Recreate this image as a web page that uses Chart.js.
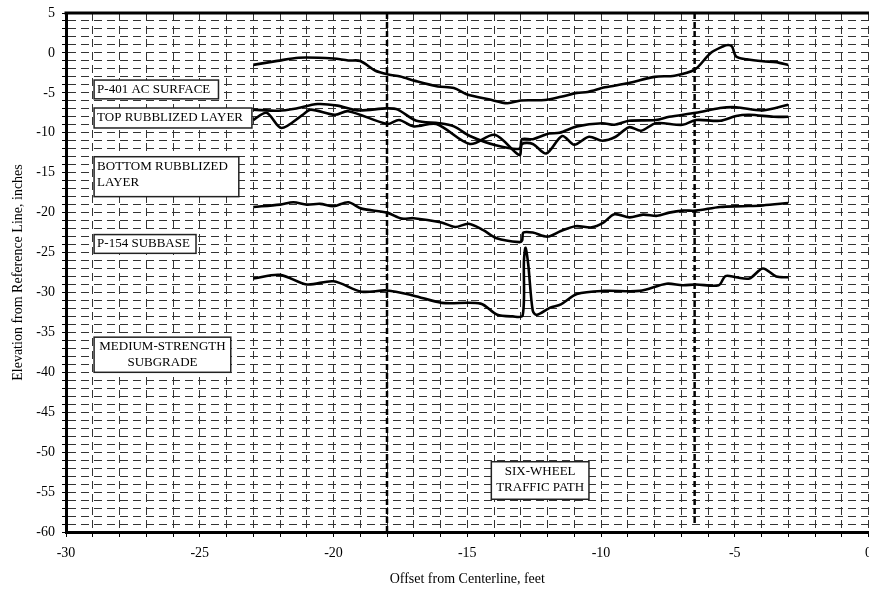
<!DOCTYPE html>
<html>
<head>
<meta charset="utf-8">
<script src="https://cdn.jsdelivr.net/npm/chart.js@4"></script>
<style>
  html, body { margin: 0; padding: 0; background: #fff; overflow: hidden; }
  #wrap { width: 880px; height: 591px; position: relative; }
</style>
</head>
<body>
<div id="wrap"><canvas id="chart"></canvas></div>
<script>
// offsets in feet, elevations in inches
const surfaceX = [-23.0, -22.1, -21.3, -20.0, -19.45, -19.0, -18.45, -17.95, -17.5, -16.95, -16.1, -15.5, -15.0, -14.2, -13.5, -13.0, -12.1, -11.5, -10.9, -10.5, -9.85, -9.0, -8.0, -7.25, -6.5, -5.9, -5.45, -5.25, -5.1, -4.95, -4.55, -3.95, -3.45, -3.0];
const surfaceY = [-1.5, -1.0, -0.6, -0.7, -0.95, -1.0, -2.2, -2.7, -2.95, -3.5, -4.2, -4.4, -5.2, -5.8, -6.3, -5.95, -5.9, -5.5, -5.0, -4.9, -4.3, -3.8, -3.0, -2.85, -2.1, 0.0, 0.8, 1.0, 0.8, -0.45, -0.8, -1.05, -1.15, -1.5];

const topRubbleX = [-23.0, -22.05, -21.45, -20.6, -19.85, -19.1, -18.0, -17.6, -16.9, -16.05, -15.5, -14.9, -13.9, -13.05, -12.95, -12.55, -11.95, -11.55, -10.9, -9.95, -9.5, -8.95, -7.95, -7.45, -6.45, -5.55, -4.95, -3.95, -3.0];
const topRubbleY = [-7.1, -7.25, -7.0, -6.4, -6.6, -7.2, -6.95, -7.1, -8.5, -8.8, -9.2, -10.4, -11.6, -12.0, -10.8, -10.8, -10.1, -10.0, -9.2, -8.8, -9.0, -8.5, -8.4, -8.0, -7.5, -6.9, -6.8, -7.2, -6.5];

const bottomRubbleX = [-23.0, -22.5, -21.95, -21.15, -20.85, -19.95, -19.45, -17.98, -17.55, -17.0, -16.15, -14.9, -13.97, -13.05, -12.95, -12.55, -12.05, -11.45, -11.0, -10.45, -9.95, -9.45, -8.95, -8.5, -7.95, -6.95, -6.45, -5.55, -4.95, -4.45, -3.55, -3.0];
const bottomRubbleY = [-8.4, -7.5, -9.4, -7.75, -7.1, -7.75, -7.3, -8.9, -8.4, -9.2, -8.9, -11.4, -10.25, -12.8, -11.4, -11.4, -12.6, -10.4, -11.5, -10.5, -11.0, -10.5, -9.3, -9.75, -8.8, -9.0, -8.4, -8.5, -7.9, -7.75, -8.0, -8.0];

const subbaseX = [-23.0, -22.0, -21.5, -21.0, -20.5, -20.0, -19.45, -18.95, -18.0, -17.45, -17.0, -16.0, -15.45, -14.95, -14.4, -13.9, -13.05, -12.95, -12.9, -12.55, -12.0, -11.5, -10.95, -10.35, -9.93, -9.5, -8.93, -8.43, -7.9, -7.45, -6.95, -6.45, -5.55, -4.7, -3.95, -3.0];
const subbaseY = [-19.3, -19.0, -18.7, -19.0, -18.9, -19.2, -18.7, -19.5, -20.0, -20.75, -20.7, -21.2, -21.8, -21.4, -22.2, -23.2, -23.7, -23.5, -22.5, -22.5, -23.0, -22.3, -21.7, -21.85, -21.3, -20.2, -20.6, -20.25, -20.4, -20.0, -19.75, -19.75, -19.3, -19.2, -19.1, -18.8];

const subgradeX = [-23.0, -22.0, -21.0, -20.0, -18.95, -18.0, -17.0, -15.95, -14.5, -13.9, -13.3, -12.93, -12.88, -12.82, -12.72, -12.55, -12.4, -11.9, -11.5, -10.9, -9.9, -8.55, -7.55, -6.95, -6.45, -5.6, -5.35, -4.95, -4.45, -3.95, -3.45, -3.0];
const subgradeY = [-28.25, -27.8, -29.0, -28.6, -29.9, -29.75, -30.4, -31.3, -31.4, -32.75, -33.0, -32.9, -26.0, -24.4, -26.5, -32.3, -32.8, -31.9, -31.5, -30.2, -29.8, -29.8, -28.9, -29.1, -29.0, -29.1, -27.95, -28.1, -28.25, -27.0, -28.0, -28.1];

// edges of the six-wheel traffic path (feet)
const trafficPathX = [-18.0, -6.5];

const xTicks = { min: -30, max: 0, step: 1, labelEvery: 5 };
const yTicks = { min: -60, max: 5, step: 1, labelEvery: 5 };

const layerNotes = [
  { text: ['P-401 AC SURFACE'], x1: -28.95, x2: -24.3, y1: -3.4, y2: -5.75, align: 'left' },
  { text: ['TOP RUBBLIZED LAYER'], x1: -28.95, x2: -23.05, y1: -6.9, y2: -9.4, align: 'left' },
  { text: ['BOTTOM RUBBLIZED', 'LAYER'], x1: -28.95, x2: -23.54, y1: -13.0, y2: -18.0, align: 'left' },
  { text: ['P-154 SUBBASE'], x1: -28.95, x2: -25.14, y1: -22.75, y2: -25.1, align: 'left' },
  { text: ['MEDIUM-STRENGTH', 'SUBGRADE'], x1: -28.95, x2: -23.84, y1: -35.6, y2: -40.0, align: 'center' },
  { text: ['SIX-WHEEL', 'TRAFFIC PATH'], x1: -14.1, x2: -10.45, y1: -51.2, y2: -55.9, align: 'center' }
];

const serif = '"Liberation Serif", "Times New Roman", serif';

function toPoints(xs, ys) {
  return xs.map((x, i) => ({ x: x, y: ys[i] }));
}

function profile(xs, ys) {
  return {
    data: toPoints(xs, ys),
    borderColor: '#000',
    borderWidth: 2.6,
    pointRadius: 0,
    tension: 0.3,
    showLine: true,
    fill: false
  };
}

function pathEdge(x, bottom) {
  return {
    data: [{ x: x, y: yTicks.max }, { x: x, y: bottom }],
    borderColor: '#000',
    borderWidth: 2.5,
    borderDash: [6, 3],
    pointRadius: 0,
    showLine: true,
    tension: 0
  };
}

// top frame line and the layer name boxes
const notesPlugin = {
  id: 'layerNotes',
  afterDatasetsDraw(chart) {
    const { ctx, chartArea, scales } = chart;
    ctx.save();
    ctx.strokeStyle = '#000';
    ctx.lineWidth = 3;
    ctx.beginPath();
    ctx.moveTo(chartArea.left - 1.5, chartArea.top);
    ctx.lineTo(chartArea.right + 2, chartArea.top);
    ctx.stroke();

    ctx.font = '13px ' + serif;
    ctx.textBaseline = 'middle';
    layerNotes.forEach(n => {
      const l = scales.x.getPixelForValue(n.x1);
      const r = scales.x.getPixelForValue(n.x2);
      const t = scales.y.getPixelForValue(n.y1);
      const b = scales.y.getPixelForValue(n.y2);
      ctx.fillStyle = '#fff';
      ctx.fillRect(l, t, r - l, b - t);
      ctx.strokeStyle = '#222';
      ctx.lineWidth = 1.5;
      ctx.strokeRect(l, t, r - l, b - t);
      ctx.fillStyle = '#000';
      const lineH = 16;
      const startY = n.text.length === 1 ? (t + b) / 2 : t + 9.5;
      n.text.forEach((s, i) => {
        if (n.align === 'center') {
          ctx.textAlign = 'center';
          ctx.fillText(s, (l + r) / 2, startY + i * lineH);
        } else {
          ctx.textAlign = 'left';
          ctx.fillText(s, l + 3, startY + i * lineH);
        }
      });
    });
    ctx.restore();
  }
};

function axisTicks(cfg) {
  return {
    stepSize: cfg.step,
    autoSkip: false,
    maxRotation: 0,
    color: '#000',
    font: { family: serif, size: 14 },
    callback: v => (Math.round(v) % cfg.labelEvery === 0 ? String(Math.round(v)) : '')
  };
}

const datasets = [
  profile(surfaceX, surfaceY),
  profile(topRubbleX, topRubbleY),
  profile(bottomRubbleX, bottomRubbleY),
  profile(subbaseX, subbaseY),
  profile(subgradeX, subgradeY),
  pathEdge(trafficPathX[0], yTicks.min),
  pathEdge(trafficPathX[1], -59)
];

new Chart(document.getElementById('chart'), {
  type: 'scatter',
  data: { datasets: datasets },
  options: {
    responsive: true,
    maintainAspectRatio: false,
    animation: false,
    layout: { padding: { top: 13, right: 0, bottom: 0, left: 0 } },
    plugins: {
      legend: { display: false },
      tooltip: { enabled: false }
    },
    scales: {
      x: {
        type: 'linear',
        min: xTicks.min,
        max: xTicks.max,
        ticks: Object.assign(axisTicks(xTicks), { padding: 8 }),
        grid: { color: '#333', lineWidth: 1, tickLength: 5, tickColor: '#000', tickWidth: 1 },
        border: { display: true, color: '#000', width: 3, dash: [8, 5] },
        title: {
          display: true,
          text: 'Offset from Centerline, feet',
          color: '#000',
          font: { family: serif, size: 14 },
          padding: { top: 0, bottom: 3 }
        },
        afterFit(scale) { scale.height = 59; }
      },
      y: {
        type: 'linear',
        min: yTicks.min,
        max: yTicks.max,
        ticks: Object.assign(axisTicks(yTicks), { padding: 7 }),
        grid: { color: '#333', lineWidth: 1, tickLength: 4, tickColor: '#000', tickWidth: 1 },
        border: { display: true, color: '#000', width: 3, dash: [8, 5] },
        title: {
          display: true,
          text: 'Elevation from Reference Line, inches',
          color: '#000',
          font: { family: serif, size: 14 },
          padding: { top: 10, bottom: 0 }
        },
        afterFit(scale) {
          scale.width = 66;
          scale.paddingTop = 0;
          scale.paddingBottom = 0;
        }
      }
    }
  },
  plugins: [notesPlugin]
});
</script>
</body>
</html>
